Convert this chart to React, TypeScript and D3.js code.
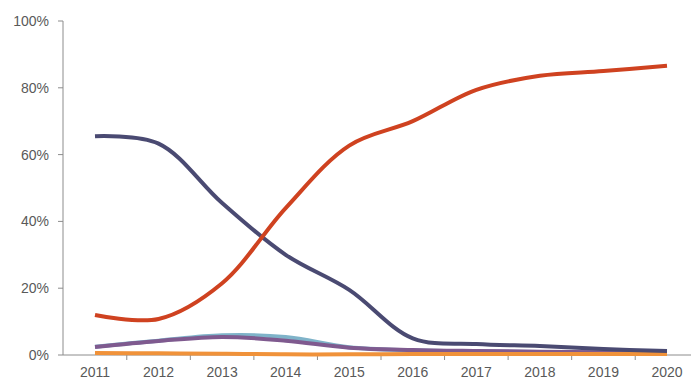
import React from "react";
import * as d3 from "d3";

const years = ["2011","2012","2013","2014","2015","2016","2017","2018","2019","2020"];
const navy = [65.5, 63.3, 45.5, 30, 19.5, 5, 3.3, 2.7, 1.8, 1.2];
const red = [12, 10.8, 21.5, 44, 62.7, 70, 79.4, 83.6, 85, 86.6];
const lightBlue = [2.5, 4.3, 5.9, 5.4, 2.3, 1.4, 1.1, 0.9, 0.7, 0.5];
const purple = [2.4, 4.2, 5.4, 4.3, 2.2, 1.5, 1.2, 1.0, 0.8, 0.6];
const orange = [0.6, 0.5, 0.4, 0.2, 0.2, 0.3, 0.3, 0.3, 0.3, 0.3];
const yTicks = [0, 20, 40, 60, 80, 100];

const series = [
  { name: "lightBlue", values: lightBlue, color: "#7fb3c9" },
  { name: "purple", values: purple, color: "#7f5a8f" },
  { name: "orange", values: orange, color: "#f0923a" },
  { name: "navy", values: navy, color: "#4a4a72" },
  { name: "red", values: red, color: "#cf4220" },
];

export default function App() {
  const W = 691, H = 379;
  const left = 63, right = 691, top = 21, bottom = 355;
  const x = d3.scalePoint<string>().domain(years).range([95, 667]);
  const step = x.step();
  const y = d3.scaleLinear().domain([0, 100]).range([bottom, top]);
  const line = d3
    .line<number>()
    .x((_, i) => x(years[i]) as number)
    .y((d) => y(d))
    .curve(d3.curveCatmullRom.alpha(0.5));
  const font = "'Liberation Sans', Arial, sans-serif";
  const axisColor = "#8c8c8c";
  const textColor = "#595959";
  return (
    <svg width={W} height={H} style={{ position: "absolute", left: 0, top: 0 }}>
      <line x1={left} x2={left} y1={top} y2={bottom} stroke={axisColor} strokeWidth={1} />
      <line x1={left} x2={right} y1={bottom} y2={bottom} stroke={axisColor} strokeWidth={1} />
      {yTicks.map((t) => (
        <g key={t}>
          <line x1={left - 5} x2={left} y1={y(t)} y2={y(t)} stroke={axisColor} />
          <text x={49} y={y(t)} dy="0.35em" textAnchor="end" fontFamily={font} fontSize={14} fill={textColor}>
            {t}%
          </text>
        </g>
      ))}
      {years.map((yr, i) => (
        <g key={yr}>
          {i < years.length - 1 && (
            <line x1={(x(yr) as number) + step / 2} x2={(x(yr) as number) + step / 2} y1={bottom} y2={bottom + 5} stroke={axisColor} />
          )}
          <text x={x(yr) as number} y={bottom + 22} textAnchor="middle" fontFamily={font} fontSize={14} fill={textColor}>
            {yr}
          </text>
        </g>
      ))}
      {series.map((s) => (
        <path key={s.name} d={line(s.values) || ""} fill="none" stroke={s.color} strokeWidth={4} strokeLinejoin="round" />
      ))}
    </svg>
  );
}
